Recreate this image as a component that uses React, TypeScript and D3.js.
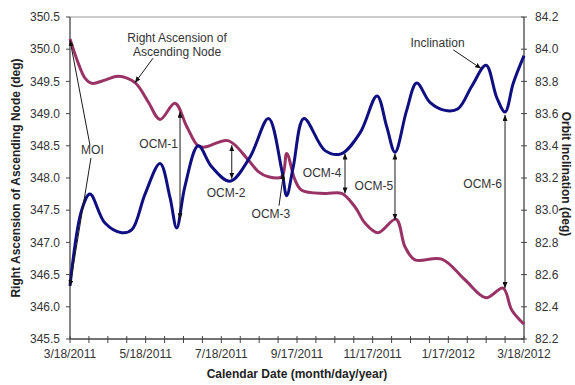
import React from 'react';
import * as d3 from 'd3';

const W = 575;
const H = 385;
const PLOT = { left: 70, right: 524, top: 17, bottom: 339 };
const FONT = '"Liberation Sans", Arial, sans-serif';

// Mission epoch (MOI) and day offsets of each sample
const START = new Date(2011, 2, 18);

const RAAN_DAYS = [0, 6.7, 12.1, 17.5, 28.2, 38.9, 52.4, 63.1, 72.6, 84.6, 94.1, 103.2, 108.8, 127.4, 143.7, 151.8, 159.9, 170.7, 174.7, 181.4, 186.8, 205.6, 219.0, 229.8, 237.8, 248.3, 262.8, 270.1, 278.1, 299.7, 318.4, 335.4, 349.1, 356.1, 366];
const RAAN_DEG = [350.16, 349.78, 349.55, 349.47, 349.52, 349.58, 349.48, 349.18, 348.91, 349.16, 348.80, 348.50, 348.48, 348.58, 348.28, 348.10, 348.02, 348.02, 348.38, 347.97, 347.81, 347.76, 347.76, 347.55, 347.30, 347.15, 347.36, 346.93, 346.73, 346.74, 346.42, 346.14, 346.29, 345.95, 345.73];

const INC_DAYS = [0, 9.4, 16.1, 28.2, 41.7, 50, 60.5, 72.6, 80.6, 86.0, 92.7, 103.4, 114.2, 129.0, 145.1, 160.0, 170.7, 174.7, 180.0, 188.6, 205.6, 218.5, 233.8, 247.5, 255.3, 262.0, 271.4, 279.5, 290.2, 302.3, 312.8, 323.9, 335.4, 344.0, 350.7, 357.4, 366];
const INC_DEG = [82.53, 83.00, 83.10, 82.92, 82.86, 82.88, 83.10, 83.29, 83.08, 82.89, 83.15, 83.40, 83.27, 83.18, 83.33, 83.57, 83.25, 83.09, 83.27, 83.57, 83.37, 83.35, 83.48, 83.71, 83.52, 83.36, 83.62, 83.79, 83.67, 83.62, 83.63, 83.77, 83.90, 83.70, 83.61, 83.79, 83.96];

const LEFT_TICKS = [345.5, 346.0, 346.5, 347.0, 347.5, 348.0, 348.5, 349.0, 349.5, 350.0, 350.5];
const RIGHT_TICKS = [82.2, 82.4, 82.6, 82.8, 83.0, 83.2, 83.4, 83.6, 83.8, 84.0, 84.2];
const DATE_TICK_DAYS = [0, 61, 122, 183, 244, 305, 366];
const MINOR_PER_MAJOR = 4;

// Maneuver markers: double-headed arrows between the two curves (left-axis degrees)
const OCM_LABELS = ['OCM-1', 'OCM-2', 'OCM-4', 'OCM-5', 'OCM-6'];
const OCM_DAY = [88.7, 130.4, 221.7, 262.0, 350.7];
const OCM_TOP = [349.03, 348.51, 348.38, 348.38, 348.98];
const OCM_BOTTOM = [347.36, 347.99, 347.76, 347.35, 346.29];
const OCM_TEXT_DAY = [87.1, 125.8, 218.9, 260.6, 348.3];
const OCM_TEXT_DEG = [348.47, 347.70, 348.01, 347.81, 347.84];
const OCM_ANCHOR = ['end', 'middle', 'end', 'end', 'end'];

const xScale = d3.scaleLinear().domain([0, 366]).range([PLOT.left, PLOT.right]);
const yLeft = d3.scaleLinear().domain([345.5, 350.5]).range([PLOT.bottom, PLOT.top]);
const yRight = d3.scaleLinear().domain([82.2, 84.2]).range([PLOT.bottom, PLOT.top]);

const fmtDate = d3.timeFormat('%-m/%-d/%Y');
const fmt1 = d3.format('.1f');

const curve = d3.curveCatmullRom.alpha(0.5);

const raanLine = d3
  .line<number>()
  .x((_, i) => xScale(RAAN_DAYS[i]))
  .y((v) => yLeft(v))
  .curve(curve);

const incLine = d3
  .line<number>()
  .x((_, i) => xScale(INC_DAYS[i]))
  .y((v) => yRight(v))
  .curve(curve);

const P = (day: number, deg: number) => [xScale(day), yLeft(deg)];

function Arrow({ from, to, both = false }: { from: number[]; to: number[]; both?: boolean }) {
  return (
    <line
      x1={from[0]}
      y1={from[1]}
      x2={to[0]}
      y2={to[1]}
      stroke="#1a1a1a"
      strokeWidth={1}
      markerEnd="url(#head)"
      markerStart={both ? 'url(#headStart)' : undefined}
    />
  );
}

export default function App() {
  const minorTicks = d3.range(0, (DATE_TICK_DAYS.length - 1) * MINOR_PER_MAJOR + 1).map(
    (i) => (i * 366) / ((DATE_TICK_DAYS.length - 1) * MINOR_PER_MAJOR)
  );
  const textStyle = { fontFamily: FONT, fontSize: 12, fill: '#333' };

  const moiText = P(18.1, 348.37);
  const raanText = P(86.3, 350.11);
  const incText = P(296.3, 350.03);
  const ocm3Text = P(162.0, 347.38);

  return (
    <svg
      width={W}
      height={H}
      style={{ position: 'absolute', left: 0, top: 0, background: '#fff' }}
    >
      <defs>
        <marker id="head" viewBox="0 0 6 5" refX={6} refY={2.5} markerWidth={6} markerHeight={5} markerUnits="userSpaceOnUse" orient="auto">
          <path d="M0,0 L6,2.5 L0,5 z" fill="#111" />
        </marker>
        <marker id="headStart" viewBox="0 0 6 5" refX={6} refY={2.5} markerWidth={6} markerHeight={5} markerUnits="userSpaceOnUse" orient="auto-start-reverse">
          <path d="M0,0 L6,2.5 L0,5 z" fill="#111" />
        </marker>
      </defs>

      {/* plot frame */}
      <line x1={PLOT.left} x2={PLOT.right} y1={PLOT.top} y2={PLOT.top} stroke="#999" strokeWidth={1} />
      <line x1={PLOT.left} x2={PLOT.right} y1={PLOT.bottom} y2={PLOT.bottom} stroke="#444" strokeWidth={1.3} />
      <line x1={PLOT.left} x2={PLOT.left} y1={PLOT.top} y2={PLOT.bottom} stroke="#444" strokeWidth={1.3} />
      <line x1={PLOT.right} x2={PLOT.right} y1={PLOT.top} y2={PLOT.bottom} stroke="#444" strokeWidth={1.3} />

      {/* left axis */}
      {LEFT_TICKS.map((t) => (
        <g key={'l' + t}>
          <line x1={PLOT.left - 4} x2={PLOT.left} y1={yLeft(t)} y2={yLeft(t)} stroke="#444" />
          <text x={PLOT.left - 10} y={yLeft(t)} dy="0.35em" textAnchor="end" style={textStyle}>
            {fmt1(t)}
          </text>
        </g>
      ))}

      {/* right axis */}
      {RIGHT_TICKS.map((t) => (
        <g key={'r' + t}>
          <line x1={PLOT.right - 3} x2={PLOT.right + 3} y1={yRight(t)} y2={yRight(t)} stroke="#444" />
          <text x={PLOT.right + 11} y={yRight(t)} dy="0.35em" textAnchor="start" style={textStyle}>
            {fmt1(t)}
          </text>
        </g>
      ))}

      {/* date axis */}
      {minorTicks.map((d, i) => (
        <line key={'m' + i} x1={xScale(d)} x2={xScale(d)} y1={PLOT.bottom - 3} y2={PLOT.bottom + 4} stroke="#444" />
      ))}
      {DATE_TICK_DAYS.map((d) => (
        <text key={'d' + d} x={xScale(d)} y={358} textAnchor="middle" style={textStyle}>
          {fmtDate(d3.timeDay.offset(START, d))}
        </text>
      ))}

      {/* axis titles */}
      <text
        transform={`translate(20,${(PLOT.top + PLOT.bottom) / 2}) rotate(-90)`}
        textAnchor="middle"
        style={{ fontFamily: FONT, fontSize: 12, fontWeight: 'bold', fill: '#222' }}
      >
        Right Ascension of Ascending Node (deg)
      </text>
      <text
        transform={`translate(562,${(PLOT.top + PLOT.bottom) / 2 - 4}) rotate(90)`}
        textAnchor="middle"
        style={{ fontFamily: FONT, fontSize: 12, fontWeight: 'bold', fill: '#222' }}
      >
        Orbit Inclination (deg)
      </text>
      <text
        x={297}
        y={378}
        textAnchor="middle"
        style={{ fontFamily: FONT, fontSize: 12, fontWeight: 'bold', fill: '#222' }}
      >
        Calendar Date (month/day/year)
      </text>

      {/* data curves */}
      <path d={raanLine(RAAN_DEG) ?? ''} fill="none" stroke="#993366" strokeWidth={3} strokeLinejoin="round" />
      <path d={incLine(INC_DEG) ?? ''} fill="none" stroke="#0f0f82" strokeWidth={3} strokeLinejoin="round" />

      {/* series labels */}
      <text x={raanText[0]} y={raanText[1]} textAnchor="middle" style={textStyle}>
        <tspan x={raanText[0]}>Right Ascension of</tspan>
        <tspan x={raanText[0]} dy={13.7}>Ascending Node</tspan>
      </text>
      <Arrow from={P(66.9, 349.86)} to={P(52.4, 349.48)} />

      <text x={incText[0]} y={incText[1]} textAnchor="middle" style={textStyle}>
        Inclination
      </text>
      <Arrow from={P(309.0, 349.99)} to={P(331.4, 349.70)} />

      {/* orbit insertion */}
      <text x={moiText[0]} y={moiText[1]} textAnchor="middle" style={textStyle}>
        MOI
      </text>
      <Arrow from={P(16.1, 348.51)} to={P(0, 350.14)} />
      <Arrow from={P(16.9, 348.31)} to={P(0, 346.32)} />

      {/* orbit correction maneuvers */}
      {OCM_LABELS.map((label, i) => {
        const tp = P(OCM_TEXT_DAY[i], OCM_TEXT_DEG[i]);
        return (
          <g key={label}>
            <Arrow from={P(OCM_DAY[i], OCM_BOTTOM[i])} to={P(OCM_DAY[i], OCM_TOP[i])} both />
            <text x={tp[0]} y={tp[1]} textAnchor={OCM_ANCHOR[i] as any} style={textStyle}>
              {label}
            </text>
          </g>
        );
      })}
      <text x={ocm3Text[0]} y={ocm3Text[1]} textAnchor="middle" style={textStyle}>
        OCM-3
      </text>
      <Arrow from={P(168.5, 347.57)} to={P(172.1, 348.07)} />
    </svg>
  );
}
